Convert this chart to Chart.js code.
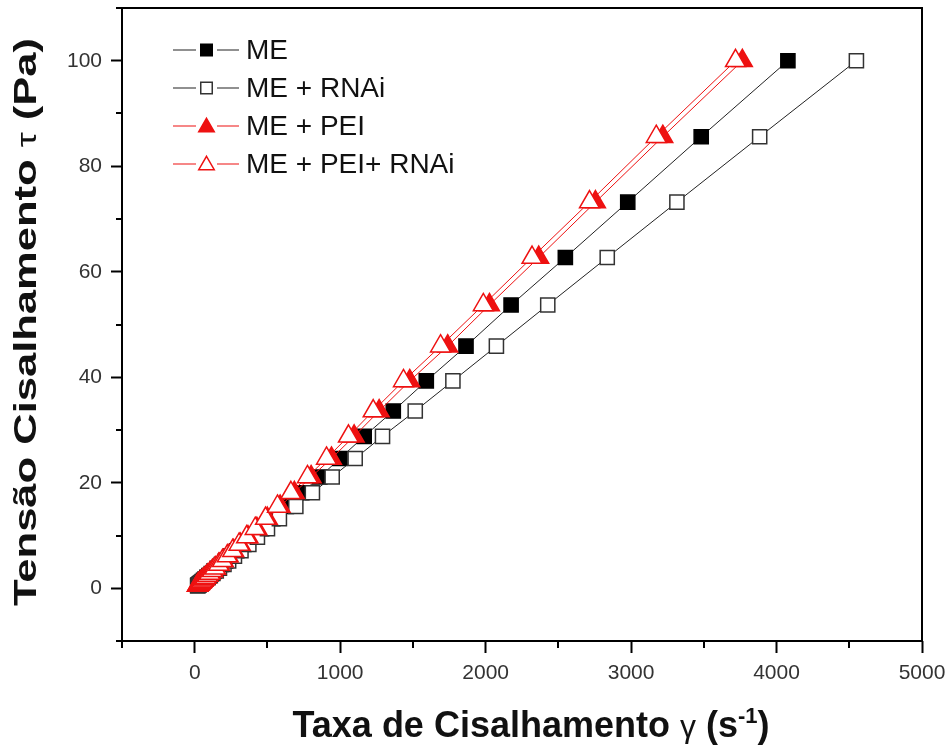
<!DOCTYPE html>
<html>
<head>
<meta charset="utf-8">
<script src="https://cdn.jsdelivr.net/npm/chart.js@4.4.1/dist/chart.umd.min.js"></script>
<style>
  html, body { margin: 0; padding: 0; background: #ffffff; }
  canvas { display: block; }
</style>
</head>
<body>
<canvas id="flow" width="950" height="747"></canvas>
<script>
// Flow curves: shear stress (Pa) against shear rate (1/s)
const seriesNames = ['ME', 'ME + RNAi', 'ME + PEI', 'ME + PEI+ RNAi'];

const shearStress = [0.5, 0.59, 0.69, 0.8, 0.94, 1.1, 1.28, 1.5, 1.75, 2.05, 2.4, 2.8, 3.3, 3.8, 4.5, 5.2,
  6.1, 7.1, 8.3, 9.7, 11.3, 13.2, 15.5, 18.1, 21.1, 24.6, 28.8, 33.6, 39.3, 45.9, 53.7, 62.7, 73.2, 85.6, 100];

const rateME = [20, 24, 28, 33, 38, 45, 52, 61, 71, 83, 98, 114, 134, 155, 183, 212,
  248, 289, 338, 395, 460, 537, 630, 736, 860, 998, 1165, 1365, 1592, 1865, 2175, 2548, 2977, 3482, 4078];

const rateMERNAi = [22, 26, 31, 36, 42, 49, 57, 67, 78, 92, 107, 125, 148, 170, 201, 233,
  273, 318, 372, 431, 500, 582, 695, 809, 945, 1103, 1291, 1516, 1775, 2074, 2427, 2836, 3315, 3884, 4549];

const rateMEPEI = [19, 22, 26, 30, 35, 42, 48, 57, 66, 77, 91, 106, 124, 143, 170, 196,
  230, 268, 313, 366, 427, 499, 587, 685, 800, 940, 1096, 1268, 1478, 1739, 2026, 2365, 2755, 3218, 3765];

const rateMEPEIRNAi = [18, 21, 25, 29, 34, 40, 47, 55, 64, 75, 88, 103, 121, 140, 165, 191,
  224, 261, 305, 357, 416, 487, 569, 661, 775, 906, 1057, 1227, 1435, 1690, 1984, 2319, 2714, 3173, 3718];

const xMajorTicks = [0, 1000, 2000, 3000, 4000, 5000];
const xMinorTicks = [-500, 500, 1500, 2500, 3500, 4500];
const yMajorTicks = [0, 20, 40, 60, 80, 100];
const yMinorTicks = [-10, 10, 30, 50, 70, 90, 110];

const RED = '#ee1111';
const DARK = '#222222';

function pairs(rates) {
  return rates.map((r, i) => ({ x: r, y: shearStress[i] }));
}

function makeSeries(name, rates, style, fill, stroke, lineColor, radius, order) {
  return {
    label: name,
    data: pairs(rates),
    showLine: true,
    borderColor: lineColor,
    borderWidth: 1,
    pointStyle: style,
    pointRadius: radius,
    pointHoverRadius: radius,
    pointBackgroundColor: fill,
    pointBorderColor: stroke,
    pointBorderWidth: 1.5,
    order: order
  };
}

const datasets = [
  makeSeries(seriesNames[0], rateME, 'rect', '#000000', '#000000', DARK, 10, 4),
  makeSeries(seriesNames[1], rateMERNAi, 'rect', '#ffffff', '#333333', DARK, 10, 3),
  makeSeries(seriesNames[2], rateMEPEI, 'triangle', RED, RED, RED, 11.5, 2),
  makeSeries(seriesNames[3], rateMEPEIRNAi, 'triangle', '#ffffff', RED, RED, 11.5, 1)
];

function drawMarker(ctx, style, cx, cy, size, fill, stroke) {
  ctx.beginPath();
  if (style === 'rect') {
    ctx.rect(cx - size / 2, cy - size / 2, size, size);
  } else {
    const h = size * 0.866;
    ctx.moveTo(cx, cy - h / 2 - 1);
    ctx.lineTo(cx + size / 2, cy + h / 2 - 1);
    ctx.lineTo(cx - size / 2, cy + h / 2 - 1);
    ctx.closePath();
  }
  ctx.fillStyle = fill;
  ctx.fill();
  ctx.lineWidth = 1.5;
  ctx.strokeStyle = stroke;
  ctx.stroke();
}

function drawSegments(ctx, segments, x, y, align) {
  let total = 0;
  segments.forEach(s => { ctx.font = s.font; total += ctx.measureText(s.text).width; });
  let px = align === 'center' ? x - total / 2 : x;
  segments.forEach(s => {
    ctx.font = s.font;
    ctx.fillText(s.text, px, y + (s.dy || 0));
    px += ctx.measureText(s.text).width;
  });
  return total;
}

const framePlugin = {
  id: 'frameAndDecor',
  afterDraw(chart) {
    const { ctx, chartArea: a, scales } = chart;
    const xs = scales.x, ys = scales.y;
    ctx.save();

    // minor ticks
    ctx.strokeStyle = '#000000';
    ctx.lineWidth = 2;
    ctx.beginPath();
    xMinorTicks.forEach(v => {
      const px = Math.round(xs.getPixelForValue(v));
      ctx.moveTo(px, a.bottom);
      ctx.lineTo(px, a.bottom + 7);
    });
    yMinorTicks.forEach(v => {
      const py = Math.round(ys.getPixelForValue(v));
      ctx.moveTo(a.left, py);
      ctx.lineTo(a.left - 6, py);
    });
    ctx.stroke();

    // plot frame
    ctx.lineWidth = 2;
    ctx.strokeRect(a.left, a.top, a.right - a.left, a.bottom - a.top);

    // legend
    ctx.textBaseline = 'middle';
    ctx.textAlign = 'left';
    chart.data.datasets.forEach((ds, i) => {
      const cy = 50 + i * 38;
      ctx.strokeStyle = ds.borderColor;
      ctx.lineWidth = 1.2;
      ctx.beginPath();
      ctx.moveTo(173, cy); ctx.lineTo(196, cy);
      ctx.moveTo(217, cy); ctx.lineTo(239, cy);
      ctx.stroke();
      const size = ds.pointStyle === 'rect' ? 11.5 : 15.5;
      drawMarker(ctx, ds.pointStyle, 206.5, cy, size, ds.pointBackgroundColor, ds.pointBorderColor);
      ctx.fillStyle = '#111111';
      ctx.font = '28px "Liberation Sans", Arial, sans-serif';
      ctx.fillText(ds.label, 246, cy + 1);
    });

    // x axis title
    ctx.fillStyle = '#111111';
    ctx.textBaseline = 'alphabetic';
    ctx.textAlign = 'left';
    const bold = 'bold 36px "Liberation Sans", Arial, sans-serif';
    drawSegments(ctx, [
      { text: 'Taxa de Cisalhamento ', font: bold },
      { text: 'γ', font: '32px "Liberation Sans", Arial, sans-serif' },
      { text: ' (s', font: bold },
      { text: '-1', font: 'bold 22px "Liberation Sans", Arial, sans-serif', dy: -14 },
      { text: ')', font: bold }
    ], 531, 737, 'center');

    // y axis title
    const yBold = 'bold 31px "Liberation Sans", Arial, sans-serif';
    const ySegs = [
      { text: 'Tensão Cisalhamento ', font: yBold },
      { text: 'τ', font: '27px "Liberation Sans", Arial, sans-serif' },
      { text: ' (Pa)', font: yBold }
    ];
    let w = 0;
    ySegs.forEach(s => { ctx.font = s.font; w += ctx.measureText(s.text).width; });
    ctx.translate(36, 322);
    ctx.rotate(-Math.PI / 2);
    ctx.scale(568 / w, 1);
    drawSegments(ctx, ySegs, 0, 0, 'center');

    ctx.restore();
  }
};

const tickFont = { family: '"Liberation Sans", Arial, sans-serif', size: 21 };

function noEdgePadding(s) {
  s.paddingTop = 0;
  s.paddingBottom = 0;
  s.paddingLeft = 0;
  s.paddingRight = 0;
}

new Chart(document.getElementById('flow'), {
  type: 'scatter',
  data: { datasets },
  options: {
    responsive: false,
    animation: false,
    devicePixelRatio: 1,
    layout: { autoPadding: false, padding: { top: 8, right: 28, left: 0, bottom: 0 } },
    plugins: { legend: { display: false }, tooltip: { enabled: false } },
    scales: {
      x: {
        type: 'linear',
        min: -500,
        max: 5000,
        afterBuildTicks: s => { s.ticks = xMajorTicks.map(v => ({ value: v })); },
        afterFit: s => { s.height = 106; noEdgePadding(s); },
        ticks: { font: tickFont, color: '#333333', padding: 8, maxRotation: 0, callback: v => String(v) },
        grid: { display: true, drawOnChartArea: false, drawTicks: true, tickLength: 12, tickWidth: 2, tickColor: '#000000' },
        border: { display: false },
        title: { display: false }
      },
      y: {
        type: 'linear',
        min: -10,
        max: 110,
        afterBuildTicks: s => { s.ticks = yMajorTicks.map(v => ({ value: v })); },
        afterFit: s => { s.width = 122; noEdgePadding(s); },
        ticks: { font: tickFont, color: '#333333', padding: 9, callback: v => String(v) },
        grid: { display: true, drawOnChartArea: false, drawTicks: true, tickLength: 11, tickWidth: 2, tickColor: '#000000' },
        border: { display: false },
        title: { display: false }
      }
    }
  },
  plugins: [framePlugin]
});
</script>
</body>
</html>
